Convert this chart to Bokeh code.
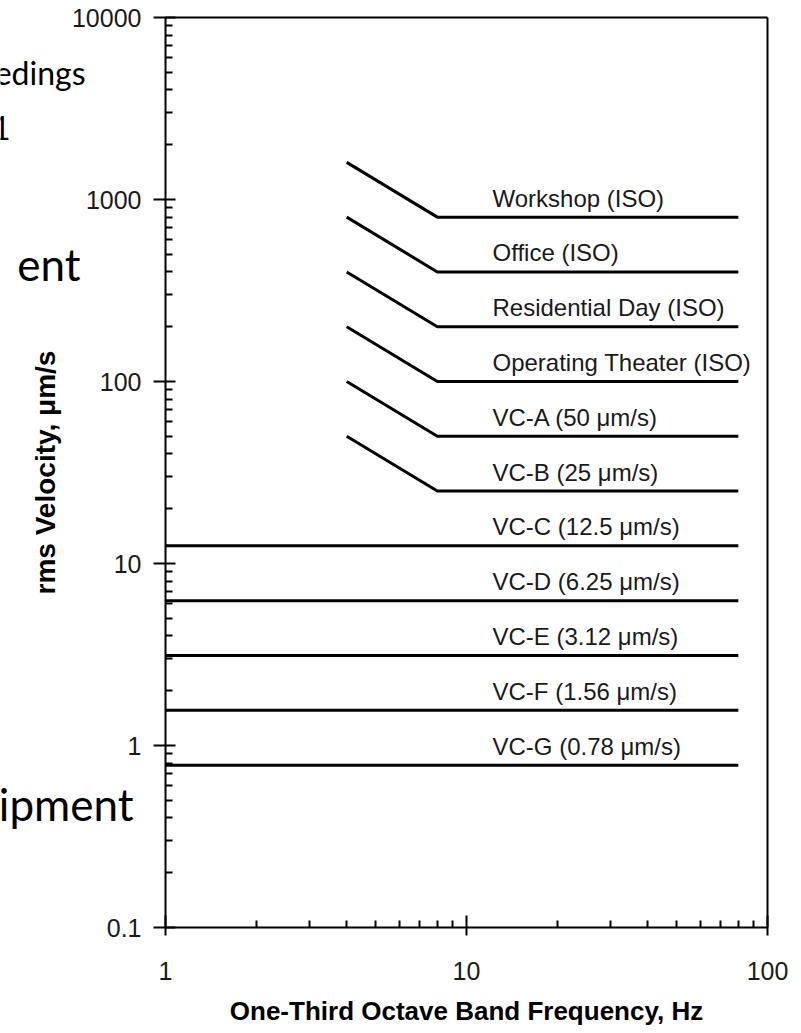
import math
from bokeh.plotting import figure
from bokeh.models import (FixedTicker, CustomJSTickFormatter, Label, ColumnDataSource,
                          LogAxis)
from bokeh.core.properties import value
from bokeh.embed import file_html
from bokeh.resources import INLINE

# ---- data ----
criteria = ["Workshop (ISO)", "Office (ISO)", "Residential Day (ISO)",
            "Operating Theater (ISO)", "VC-A (50 \u03bcm/s)", "VC-B (25 \u03bcm/s)",
            "VC-C (12.5 \u03bcm/s)", "VC-D (6.25 \u03bcm/s)", "VC-E (3.12 \u03bcm/s)",
            "VC-F (1.56 \u03bcm/s)", "VC-G (0.78 \u03bcm/s)"]
flat_velocity = [800, 400, 200, 100, 50, 25, 12.5, 6.25, 3.12, 1.56, 0.78]
start_velocity = [1600, 800, 400, 200, 100, 50, 12.5, 6.25, 3.12, 1.56, 0.78]
start_freq = [4, 4, 4, 4, 4, 4, 1, 1, 1, 1, 1]
knee_freq = [8, 8, 8, 8, 8, 8, 8, 8, 8, 8, 8]
end_freq = [80] * 11

x_major = [1, 10, 100]
x_minor = [2, 3, 4, 5, 6, 7, 8, 9, 20, 30, 40, 50, 60, 70, 80, 90]
y_major = [0.1, 1, 10, 100, 1000, 10000]
y_minor = [m * d for d in [0.1, 1, 10, 100, 1000] for m in range(2, 10)]
x_bounds = (1, 100)
y_bounds = (0.1, 10000)

x_title = "One-Third Octave Band Frequency, Hz"
y_title = "rms Velocity, \u03bcm/s"
slide_fragments = ["edings", "1", "ent", "ipment"]

# ---- layout constants (pixels) ----
W, H = 793, 1025
FR_L, FR_R, FR_T, FR_B = 165, 767, 17, 927     # data box inside the canvas
px_dec_x = (FR_R - FR_L) / (math.log10(x_bounds[1]) - math.log10(x_bounds[0]))
px_dec_y = (FR_B - FR_T) / (math.log10(y_bounds[1]) - math.log10(y_bounds[0]))
x_range = (x_bounds[0] / 10 ** (FR_L / px_dec_x), x_bounds[1] * 10 ** ((W - FR_R) / px_dec_x))
y_range = (y_bounds[0] / 10 ** ((H - FR_B) / px_dec_y), y_bounds[1] * 10 ** (FR_T / px_dec_y))

xs = [[s, k, e] for s, k, e in zip(start_freq, knee_freq, end_freq)]
ys = [[sv, fv, fv] for sv, fv in zip(start_velocity, flat_velocity)]

p = figure(width=W, height=H, x_axis_type="log", y_axis_type="log",
           x_range=x_range, y_range=y_range,
           output_backend="svg", toolbar_location=None, min_border=0,
           min_border_left=0, min_border_right=0, min_border_top=0, min_border_bottom=0)
p.xgrid.grid_line_color = None
p.ygrid.grid_line_color = None
p.outline_line_color = None
p.background_fill_color = "white"
p.border_fill_color = "white"

p.multi_line(xs=xs, ys=ys, line_color="black", line_width=3)

src = ColumnDataSource(dict(x=[12.2] * len(criteria), y=flat_velocity, t=criteria))
p.text(x="x", y="y", text="t", source=src, text_font=value("Liberation Sans"),
       text_font_size="24px", text_color="#1a1a1a", y_offset=-19,
       text_baseline="alphabetic", text_align="left")

fmt = CustomJSTickFormatter(code="return tick.toString();")

xa = p.xaxis[0]
xa.fixed_location = y_bounds[0]
xa.bounds = x_bounds
xa.ticker = FixedTicker(ticks=x_major, minor_ticks=x_minor)
xa.formatter = fmt
xa.axis_line_width = 2
xa.major_tick_line_width = 2
xa.minor_tick_line_width = 2
xa.major_tick_in = 12
xa.major_tick_out = 8
xa.minor_tick_in = 7
xa.minor_tick_out = 0
xa.major_label_standoff = 26
xa.major_label_text_font = "Liberation Sans"
xa.major_label_text_font_size = "25px"
xa.major_label_text_color = "#1a1a1a"

ya = p.yaxis[0]
ya.fixed_location = x_bounds[0]
ya.bounds = y_bounds
ya.ticker = FixedTicker(ticks=y_major, minor_ticks=y_minor)
ya.formatter = fmt
ya.axis_line_width = 2
ya.major_tick_line_width = 2
ya.minor_tick_line_width = 2
ya.major_tick_in = 10
ya.major_tick_out = 12
ya.minor_tick_in = 7
ya.minor_tick_out = 0
ya.major_label_standoff = 12
ya.major_label_text_font = "Liberation Sans"
ya.major_label_text_font_size = "25px"
ya.major_label_text_color = "#1a1a1a"

# top and right frame lines as tick-less axes
blank = dict(ticker=FixedTicker(ticks=[], minor_ticks=[]), axis_line_width=2,
             major_tick_in=0, major_tick_out=0, minor_tick_in=0, minor_tick_out=0,
             major_label_text_font_size="0px")
p.add_layout(LogAxis(fixed_location=y_bounds[1], bounds=x_bounds, **blank), "above")
p.add_layout(LogAxis(fixed_location=x_bounds[1], bounds=y_bounds, **blank), "right")

# axis titles (centred on the data box)
x_mid = 10 ** ((math.log10(x_bounds[0]) + math.log10(x_bounds[1])) / 2)
y_mid = 10 ** ((math.log10(y_bounds[0]) + math.log10(y_bounds[1])) / 2)
p.add_layout(Label(x=x_mid, x_units="data", y=H - 1010, y_units="screen", text=x_title,
                   text_font="Liberation Sans", text_font_style="bold", text_font_size="26px",
                   text_color="black", text_align="center", text_baseline="middle"))
p.add_layout(Label(x=45, x_units="screen", y=y_mid, y_units="data", text=y_title,
                   angle=math.pi / 2, text_font="Liberation Sans", text_font_style="bold",
                   text_font_size="28px", text_color="black", text_align="center",
                   text_baseline="middle"))

# slide text fragments cut by the left edge
frag_right = [85, 10, 80, 133]      # canvas x of right end
frag_base = [84, 140, 280, 820]     # canvas y of baseline (from top)
frag_size = [32, 32, 44, 44]
for t, rx, by, fs in zip(slide_fragments, frag_right, frag_base, frag_size):
    shift = 0.38 * fs
    p.add_layout(Label(x=rx, y=H - (by - shift), x_units="screen", y_units="screen",
                       text=t, text_font="Lato", text_font_size=f"{fs}px", text_color="black",
                       text_align="right", text_baseline="alphabetic"))

open("out.html", "w").write(file_html(p, INLINE))
